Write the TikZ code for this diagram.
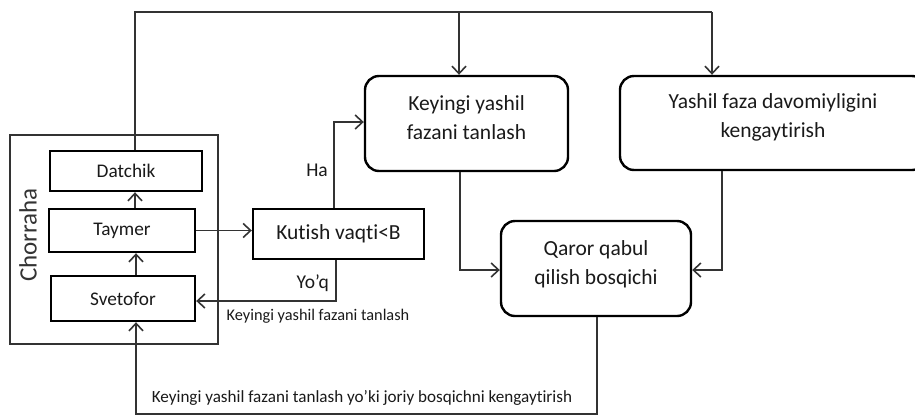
\documentclass[tikz,border=0pt]{standalone}
\usepackage{fontspec}
\setmainfont{Carlito}[Ligatures={NoCommon}]
\usetikzlibrary{arrows.meta}
\definecolor{lin}{HTML}{333333}
\definecolor{txt}{HTML}{1A1A1A}
\begin{document}
\begin{tikzpicture}[x=1pt,y=-1pt,
  outerbox/.style={draw=lin,line width=1.6pt,inner sep=0pt},
  sqbox/.style={draw=black,line width=2.4pt,inner sep=0pt,text=txt,font=\fontsize{19.3}{23}\selectfont},
  rbox/.style={draw=black,line width=2.4pt,rounded corners=14pt,inner sep=0pt},
  btext/.style={font=\fontsize{21.5}{29}\selectfont,align=center,inner sep=0pt,text=txt},
  conn/.style={draw=lin,line width=1.6pt},
  arr/.style={conn,-{Straight Barb[length=7.5pt,width=14pt]}},
  lab/.style={font=\fontsize{19.5}{22}\selectfont,inner sep=0pt,text=txt},
  small/.style={font=\fontsize{16.3}{19}\selectfont,inner sep=0pt,text=txt}]
\useasboundingbox (0,0) rectangle (915,416);
\clip (0,0) rectangle (915,416);
\fill[white] (0,0) rectangle (915,416);

% containers and boxes
\node[outerbox,minimum width=208pt,minimum height=209pt] (chor) at (114,239.5) {};
\node[rotate=90,font=\fontsize{25}{30}\selectfont,text=lin,inner sep=0pt] (chlab) at (28,235) {Chorraha};
\node[sqbox,minimum width=152pt,minimum height=40pt] (dat) at (126,171) {Datchik};
\node[sqbox,minimum width=146pt,minimum height=43pt] (tay) at (122,230.5) {Taymer};
\node[sqbox,minimum width=144pt,minimum height=45pt] (sve) at (123,298.5) {Svetofor};
\node[sqbox,font=\fontsize{21.5}{26}\selectfont,minimum width=171pt,minimum height=50pt] (kut) at (338.5,234) {Kutish vaqti<B};
\node[rbox,minimum width=203pt,minimum height=95pt] (key) at (466.5,123.5) {};
\node[btext] (keyt) at (466.5,117.5) {Keyingi yashil\\fazani tanlash};
\node[rbox,minimum width=306pt,minimum height=94pt] (yas) at (773,123) {};
\node[btext] (yast) at (773,117.5) {Yashil faza davomiyligini\\kengaytirish};
\node[rbox,minimum width=190pt,minimum height=95pt] (qar) at (596,268.5) {};
\node[btext] (qart) at (596,264) {Qaror qabul\\qilish bosqichi};

% helper coordinates
\coordinate (t1) at (135,12);
\coordinate (t2) at (712,12);
\coordinate (t3) at (459,12);
\coordinate (v2) at (136,0);
\coordinate (h) at (334,122);
\coordinate (y1) at (336,301);
\coordinate (k1) at (460,270);
\coordinate (y2) at (722,270);
\coordinate (b1) at (597,414);
\coordinate (b2) at (136,414);

% connectors
\draw[conn] (dat.north -| t1) -- (t1) -- (t2);
\draw[arr] (t2) -- (yas.north -| t2);
\draw[arr] (t3) -- (key.north -| t3);
\draw[arr] (tay.north -| t1) -- (dat.south -| t1);
\draw[arr] (sve.north -| v2) -- (tay.south -| v2);
\draw[arr] (tay.east) -- (kut.west |- tay.east);
\draw[arr] (kut.north -| h) -- (h) -- (key.west |- h);
\draw[arr] (kut.south -| y1) -- (y1) -- (sve.east |- y1);
\draw[arr] (key.south -| k1) -- (k1) -- (qar.west |- k1);
\draw[arr] (yas.south -| y2) -- (y2) -- (qar.east |- y2);
\draw[arr] (qar.south -| b1) -- (b1) -- (b2) -- (sve.south -| b2);

% labels
\node[lab,anchor=east] (ha) at (328,170) {Ha};
\node[lab,anchor=east] (yoq) at (329,283) {Yo’q};
\node[small] (lk) at (318,316) {Keyingi yashil fazani tanlash};
\node[small,font=\fontsize{17.1}{20}\selectfont] (lb) at (362,398) {Keyingi yashil fazani tanlash yo’ki joriy bosqichni kengaytirish};
\end{tikzpicture}
\end{document}
